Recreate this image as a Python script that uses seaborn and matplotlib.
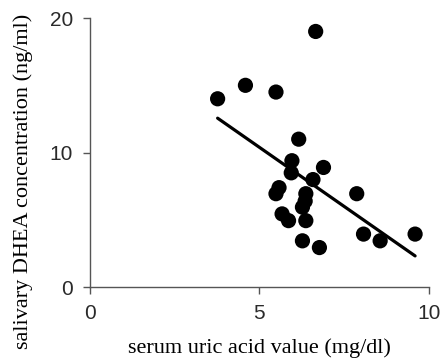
import matplotlib
matplotlib.use("Agg")
import matplotlib.pyplot as plt
import seaborn as sns
import pandas as pd

uric_acid = [6.66, 4.59, 5.49, 3.77, 6.16, 5.96, 5.94, 6.89, 6.58, 5.58, 5.49,
             6.37, 6.35, 6.27, 7.87, 5.67, 5.86, 6.37, 8.07, 8.56, 9.59, 6.27, 6.77]
dhea = [19.0, 15.0, 14.5, 14.0, 11.0, 9.4, 8.5, 8.9, 8.0, 7.4, 6.95,
        6.95, 6.4, 5.95, 6.95, 5.45, 4.95, 4.95, 3.95, 3.45, 3.95, 3.45, 2.95]
fit_x = [3.77, 9.59]
fit_y = [12.56, 2.33]
x_ticks = [0, 5, 10]
y_ticks = [0, 10, 20]

df = pd.DataFrame({"x": uric_acid, "y": dhea})
fit = pd.DataFrame({"x": fit_x, "y": fit_y})

sns.set_style("ticks")
fig = plt.figure(figsize=(4.41, 3.6), dpi=100)
ax = fig.add_axes([0.2034, 0.202, 0.7694, 0.748])

sns.scatterplot(data=df, x="x", y="y", ax=ax, color="black", s=120,
                edgecolor="none", zorder=3)
sns.lineplot(data=fit, x="x", y="y", ax=ax, color="black", linewidth=2.3)

ax.set_xlim(0, 10)
ax.set_ylim(0, 20)
ax.set_xticks(x_ticks)
ax.set_yticks(y_ticks)
ax.set_xticklabels([str(t) for t in x_ticks], fontfamily="Liberation Sans",
                   fontsize=15, color="#2a2a2a")
ax.set_yticklabels([str(t) for t in y_ticks], fontfamily="Liberation Sans",
                   fontsize=15, color="#2a2a2a")
ax.tick_params(axis="both", direction="out", length=5, width=1, color="#555555", pad=7)
for side in ["top", "right"]:
    ax.spines[side].set_visible(False)
for side in ["left", "bottom"]:
    ax.spines[side].set_color("#555555")
    ax.spines[side].set_linewidth(1)

ax.set_xlabel("serum uric acid value (mg/dl)", fontfamily="Liberation Serif",
              fontsize=16, color="black")
ax.set_ylabel("salivary DHEA concentration (ng/ml)", fontfamily="Liberation Serif",
              fontsize=16, color="black")
ax.xaxis.set_label_coords(0.5, -0.19)
ax.yaxis.set_label_coords(-0.167, 0.393)

fig.savefig("out.png", dpi=100)
